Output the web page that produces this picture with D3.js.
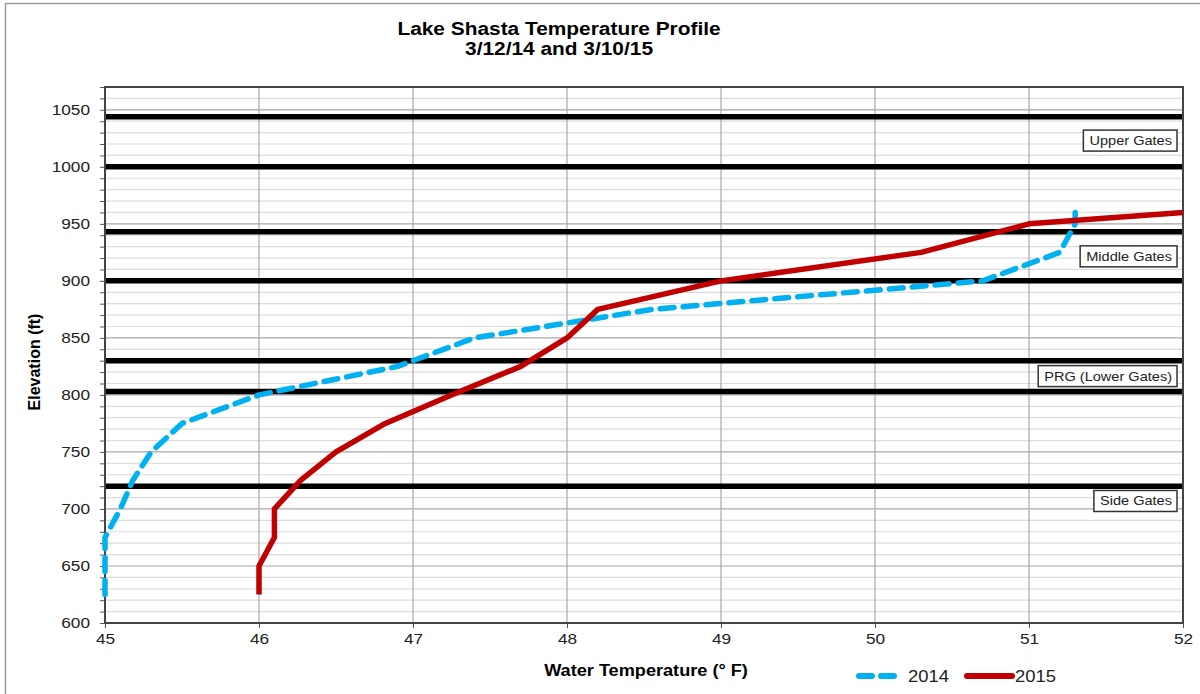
<!DOCTYPE html>
<html>
<head>
<meta charset="utf-8">
<script src="https://d3js.org/d3.v7.min.js"></script>
<style>
body { margin: 0; background: #fff; font-family: "Liberation Sans", Arial, sans-serif; }
svg { display: block; }
</style>
</head>
<body>
<svg width="1200" height="694"></svg>
<script>
// readings
var elev2014 = [625, 650, 675, 700, 725, 750, 775, 800, 825, 850, 875, 900, 925, 950, 960];
var temp2014 = [45.0, 45.0, 45.0, 45.1, 45.18, 45.3, 45.5, 46.0, 46.9, 47.4, 48.55, 50.7, 51.2, 51.3, 51.3];
var elev2015 = [625, 650, 675, 700, 725, 750, 775, 800, 825, 850, 875, 900, 925, 950, 960];
var temp2015 = [46.0, 46.0, 46.1, 46.1, 46.27, 46.5, 46.82, 47.25, 47.7, 48.0, 48.2, 49.0, 50.3, 51.0, 52.0];
var gateLines = [1044, 1000, 943, 900, 830, 803, 720];
var gateNames = ["Upper Gates", "Middle Gates", "PRG (Lower Gates)", "Side Gates"];
var gateLabelElev = [1023, 921.5, 816.5, 707];
var xTicks = [45, 46, 47, 48, 49, 50, 51, 52];
var yTicks = [600, 650, 700, 750, 800, 850, 900, 950, 1000, 1050];

var svg = d3.select("svg");
var plotL = 105, plotR = 1183, plotT = 87, plotB = 623;
var SX = 1.15; // the source picture is a bit wider than tall

var x = d3.scaleLinear().domain([45, 52]).range([plotL, plotR]);
var y = d3.scaleLinear().domain([600, 1070]).range([plotB, plotT]);

// widen a text around its anchor point
function stretch(sel, sx) {
  sel.each(function() {
    var t = d3.select(this);
    var tx = +t.attr("x") || 0, ty = +t.attr("y") || 0;
    t.attr("x", 0).attr("y", 0)
      .attr("transform", "translate(" + tx + "," + ty + ") scale(" + sx + ",1)");
  });
}

// outer frame
svg.append("rect").attr("x", 5.5).attr("y", 3.5).attr("width", 1210).attr("height", 700)
  .attr("fill", "none").attr("stroke", "#999").attr("stroke-width", 1.5);

// title
var title = svg.append("g");
title.append("text").attr("x", 559).attr("y", 35).attr("text-anchor", "middle")
  .attr("font-size", "18px").attr("font-weight", "bold").text("Lake Shasta Temperature Profile");
title.append("text").attr("x", 559).attr("y", 55).attr("text-anchor", "middle")
  .attr("font-size", "18px").attr("font-weight", "bold").text("3/12/14 and 3/10/15");
stretch(title.selectAll("text"), 1.16);

// grid
var minor = d3.range(600, 1071, 10);
svg.append("g").selectAll("line").data(minor).enter().append("line")
  .attr("x1", plotL).attr("x2", plotR)
  .attr("y1", function(d) { return y(d); }).attr("y2", function(d) { return y(d); })
  .attr("stroke", function(d) { return d % 50 == 0 ? "#a8a8a8" : "#dcdcdc"; })
  .attr("stroke-width", 1.2);

svg.append("g").selectAll("line").data(xTicks).enter().append("line")
  .attr("x1", function(d) { return x(d); }).attr("x2", function(d) { return x(d); })
  .attr("y1", plotT).attr("y2", plotB)
  .attr("stroke", "#a8a8a8").attr("stroke-width", 1.2);

// gate lines
svg.append("g").selectAll("line").data(gateLines).enter().append("line")
  .attr("x1", plotL).attr("x2", plotR)
  .attr("y1", function(d) { return y(d); }).attr("y2", function(d) { return y(d); })
  .attr("stroke", "#000").attr("stroke-width", 5.5);

// axes
var yAxis = d3.axisLeft(y).tickValues(minor).tickSize(5)
  .tickFormat(function(d) { return yTicks.indexOf(d) >= 0 ? d : ""; });
var gy = svg.append("g").attr("transform", "translate(" + plotL + ",0)").call(yAxis);
gy.select(".domain").remove();
gy.selectAll("line").attr("stroke", "#555");
gy.selectAll("text").attr("font-size", "15px").attr("fill", "#222")
  .attr("font-family", "Liberation Sans, Arial, sans-serif").attr("x", -15);
stretch(gy.selectAll("text"), SX);

var xAxis = d3.axisBottom(x).tickValues(xTicks).tickSize(5).tickFormat(d3.format("d"));
var gx = svg.append("g").attr("transform", "translate(0," + plotB + ")").call(xAxis);
gx.select(".domain").remove();
gx.selectAll("line").attr("stroke", "#555");
gx.selectAll("text").attr("font-size", "15px").attr("fill", "#222")
  .attr("font-family", "Liberation Sans, Arial, sans-serif").attr("y", 10);
stretch(gx.selectAll("text"), SX);

// plot frame
svg.append("rect").attr("x", plotL).attr("y", plotT).attr("width", plotR - plotL).attr("height", plotB - plotT)
  .attr("fill", "none").attr("stroke", "#444").attr("stroke-width", 2);

// curves
var line = d3.line().x(function(d) { return x(d[0]); }).y(function(d) { return y(d[1]); });
var d2014 = temp2014.map(function(t, i) { return [t, elev2014[i]]; });
var d2015 = temp2015.map(function(t, i) { return [t, elev2015[i]]; });

svg.append("path").attr("d", line(d2014)).attr("fill", "none")
  .attr("stroke", "#00b0f0").attr("stroke-width", 5.5)
  .attr("stroke-dasharray", "14,9").attr("stroke-linecap", "round").attr("stroke-linejoin", "round");
svg.append("path").attr("d", line(d2015)).attr("fill", "none")
  .attr("stroke", "#c00000").attr("stroke-width", 5.5).attr("stroke-linejoin", "round");

// gate labels
gateNames.forEach(function(n, i) {
  var g = svg.append("g");
  var cy = y(gateLabelElev[i]);
  var t = g.append("text").attr("x", 1172).attr("y", cy + 4.5)
    .attr("text-anchor", "end").attr("font-size", "13px").attr("fill", "#222").text(n);
  stretch(t, 1.12);
  var w = t.node().getBBox().width * 1.12;
  g.insert("rect", "text").attr("x", 1172 - w - 6).attr("y", cy - 10.5)
    .attr("width", w + 11).attr("height", 21)
    .attr("fill", "#fff").attr("stroke", "#333").attr("stroke-width", 1.5);
});

// axis titles
svg.append("text").attr("transform", "translate(40," + 362 + ") rotate(-90)")
  .attr("text-anchor", "middle").attr("font-size", "16px").attr("font-weight", "bold").text("Elevation (ft)");
var xt = svg.append("text").attr("x", 646).attr("y", 676).attr("text-anchor", "middle")
  .attr("font-size", "16.5px").attr("font-weight", "bold").text("Water Temperature (\u00b0 F)");
stretch(xt, 1.1);

// legend
var leg = svg.append("g");
leg.append("line").attr("x1", 859).attr("x2", 900).attr("y1", 676).attr("y2", 676)
  .attr("stroke", "#00b0f0").attr("stroke-width", 6).attr("stroke-dasharray", "13,9")
  .attr("stroke-linecap", "round");
leg.append("text").attr("x", 908).attr("y", 682).attr("font-size", "16px").attr("fill", "#222").text("2014");
leg.append("line").attr("x1", 967).attr("x2", 1012).attr("y1", 676).attr("y2", 676)
  .attr("stroke", "#c00000").attr("stroke-width", 6).attr("stroke-linecap", "round");
leg.append("text").attr("x", 1015).attr("y", 682).attr("font-size", "16px").attr("fill", "#222").text("2015");
stretch(leg.selectAll("text"), SX);
</script>
</body>
</html>
